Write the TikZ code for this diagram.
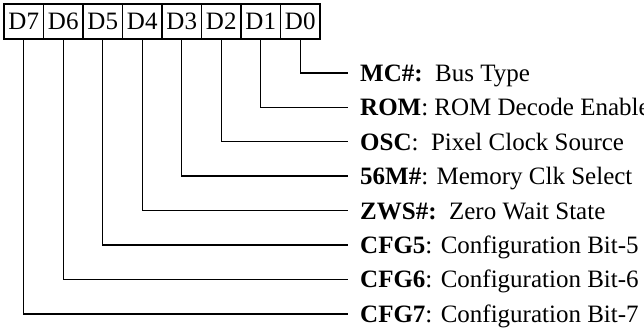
\documentclass[tikz,border=0pt]{standalone}
\usepackage{fontspec}
\setmainfont{Liberation Serif}
\usetikzlibrary{positioning}
\tikzset{
  bitbox/.style={draw,line width=1.3pt,outer sep=0pt,inner sep=0pt,minimum width=39.5pt,minimum height=35pt,font=\fontsize{25pt}{29pt}\selectfont},
  bitlabel/.style={anchor=west,inner xsep=12pt,inner ysep=0pt,text height=17pt,text depth=0pt,font=\fontsize{25pt}{29pt}\selectfont},
  wire/.style={line width=1.4pt}
}

\begin{document}
\begin{tikzpicture}[x=1pt,y=-1pt]
\useasboundingbox (0,0) rectangle (644,328);
% register bits
\node[bitbox] (d7) at (23.75,21.5) {D7};
\node[bitbox,right=0pt of d7] (d6) {D6};
\node[bitbox,right=0pt of d6] (d5) {D5};
\node[bitbox,right=0pt of d5] (d4) {D4};
\node[bitbox,right=0pt of d4] (d3) {D3};
\node[bitbox,right=0pt of d3] (d2) {D2};
\node[bitbox,right=0pt of d2] (d1) {D1};
\node[bitbox,right=0pt of d1] (d0) {D0};
% bit meanings
\node[bitlabel] (mc) at (348,73) {\textbf{MC\#:}\ \ Bus Type};
\node[bitlabel] (rom) at (348,107.4) {\textbf{ROM}: ROM Decode Enable};
\node[bitlabel] (osc) at (348,141.8) {\textbf{OSC}:\ \ Pixel Clock Source};
\node[bitlabel] (clk) at (348,176.2) {\textbf{56M\#}: Memory Clk Select};
\node[bitlabel] (zws) at (348,210.6) {\textbf{ZWS\#:}\ \ Zero Wait State};
\node[bitlabel] (cfg5) at (348,245) {\textbf{CFG5}: Configuration Bit-5};
\node[bitlabel] (cfg6) at (348,279.4) {\textbf{CFG6}: Configuration Bit-6};
\node[bitlabel] (cfg7) at (348,313.8) {\textbf{CFG7}: Configuration Bit-7};
\draw[wire] (d0.south) |- (mc.west);
\draw[wire] (d1.south) |- (rom.west);
\draw[wire] (d2.south) |- (osc.west);
\draw[wire] (d3.south) |- (clk.west);
\draw[wire] (d4.south) |- (zws.west);
\draw[wire] (d5.south) |- (cfg5.west);
\draw[wire] (d6.south) |- (cfg6.west);
\draw[wire] (d7.south) |- (cfg7.west);
\end{tikzpicture}
\end{document}
